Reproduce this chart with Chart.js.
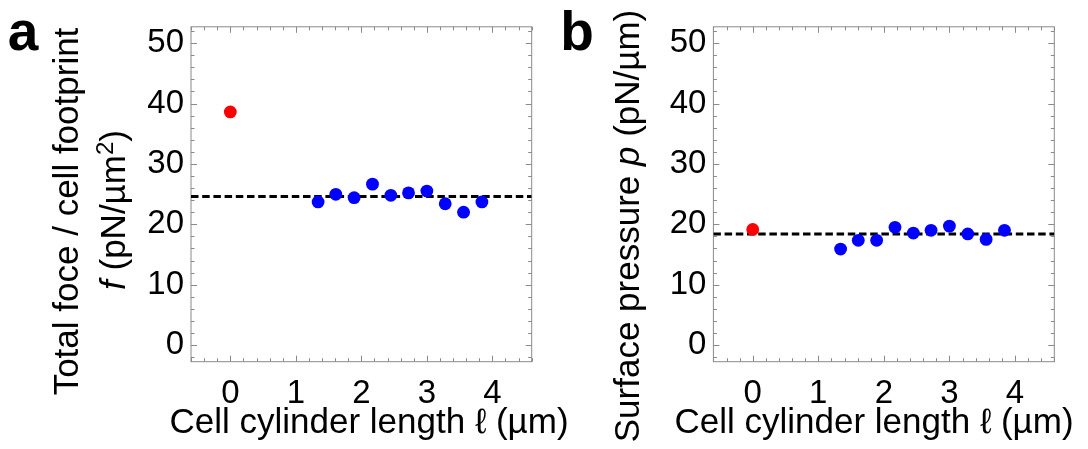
<!DOCTYPE html>
<html><head><meta charset="utf-8">
<script src="https://cdn.jsdelivr.net/npm/chart.js@4.4.1/dist/chart.umd.min.js"></script>
<style>
html,body{margin:0;padding:0;background:#fff;}
#wrap{position:relative;width:1088px;height:449px;overflow:hidden;}
.panel{position:absolute;top:0;height:449px;}
</style></head><body>
<div id="wrap">
<div class="panel" style="left:0;width:600px"><canvas id="ca" width="600" height="449"></canvas></div>
<div class="panel" style="left:544px;width:544px"><canvas id="cb" width="544" height="449"></canvas></div>
</div>
<script>
// ---- data ----
const cylinderLength = [1.34, 1.61, 1.89, 2.17, 2.45, 2.72, 3.00, 3.28, 3.56, 3.84];
const forcePerFootprint = [23.7, 24.96, 24.4, 26.65, 24.8, 25.2, 25.5, 23.4, 22.0, 23.7];
const forceAtZero = [{x: 0, y: 38.6}];
const forceMean = 24.6;
const surfacePressure = [15.9, 17.35, 17.35, 19.5, 18.55, 19.0, 19.7, 18.4, 17.5, 19.0];
const pressureAtZero = [{x: 0, y: 19.15}];
const pressureMean = 18.4;
const xTickValues = [0, 1, 2, 3, 4];
const yTickValues = [0, 10, 20, 30, 40, 50];
const xRange = [-0.6, 4.6];
const yRange = [-2.75, 52.7];
const xMinorStep = 0.2;
const yMinorStep = 2;

const FAM = '"Liberation Sans", Arial, Helvetica, sans-serif';

function drawRich(ctx, segs, x, y, rot) {
  ctx.save();
  ctx.translate(x, y);
  ctx.rotate(rot);
  ctx.textAlign = 'left';
  ctx.textBaseline = 'alphabetic';
  ctx.fillStyle = '#000';
  let total = 0;
  segs.forEach(s => { ctx.font = s.font; s.w = ctx.measureText(s.t).width; total += s.w; });
  let cx = -total / 2;
  segs.forEach(s => { ctx.font = s.font; ctx.fillText(s.t, cx, -(s.dy || 0)); cx += s.w; });
  ctx.restore();
}

function makePlugin(titles) {
  return {
    id: 'frameTitles',
    beforeDatasetsDraw(chart) {
      const ctx = chart.ctx, a = chart.chartArea;
      const xs = chart.scales.x, ys = chart.scales.y;
      ctx.save();
      ctx.strokeStyle = '#8a8a8a';
      ctx.lineWidth = 1;
      ctx.strokeRect(a.left, a.top, a.right - a.left, a.bottom - a.top);
      ctx.beginPath();
      const k0 = Math.ceil(xRange[0] / xMinorStep - 1e-9), k1 = Math.floor(xRange[1] / xMinorStep + 1e-9);
      for (let k = k0; k <= k1; k++) {
        const v = k * xMinorStep;
        const major = xTickValues.some(t => Math.abs(t - v) < 1e-6);
        const L = major ? 6 : 3.5;
        const px = Math.round(xs.getPixelForValue(v)) + 0.5;
        ctx.moveTo(px, a.bottom); ctx.lineTo(px, a.bottom - L);
        ctx.moveTo(px, a.top); ctx.lineTo(px, a.top + L);
      }
      const j0 = Math.ceil(yRange[0] / yMinorStep - 1e-9), j1 = Math.floor(yRange[1] / yMinorStep + 1e-9);
      for (let j = j0; j <= j1; j++) {
        const v = j * yMinorStep;
        const major = yTickValues.some(t => Math.abs(t - v) < 1e-6);
        const L = major ? 6 : 3.5;
        const py = Math.round(ys.getPixelForValue(v)) + 0.5;
        ctx.moveTo(a.left, py); ctx.lineTo(a.left + L, py);
        ctx.moveTo(a.right, py); ctx.lineTo(a.right - L, py);
      }
      ctx.stroke();
      ctx.restore();
    },
    afterDraw(chart) {
      const ctx = chart.ctx;
      titles.forEach(t => drawRich(ctx, t.segs, t.x, t.y, t.rot || 0));
    }
  };
}

function makeChart(id, canvasW, values, zeroPoint, mean, leftW, rightPad, titles) {
  const blue = cylinderLength.map((x, i) => ({x: x, y: values[i]}));
  return new Chart(document.getElementById(id), {
    type: 'scatter',
    data: {
      datasets: [
        {type: 'line', data: [{x: xRange[0], y: mean}, {x: xRange[1], y: mean}],
         borderColor: '#000', borderWidth: 3, borderDash: [7.5, 3.7], borderCapStyle: 'butt',
         pointRadius: 0, fill: false, order: 3},
        {data: blue, backgroundColor: '#0000ff', borderWidth: 0, pointRadius: 6.4, order: 1},
        {data: zeroPoint, backgroundColor: '#ff0000', borderWidth: 0, pointRadius: 6.4, order: 1}
      ]
    },
    options: {
      responsive: false,
      animation: false,
      events: [],
      layout: {padding: {top: 21.7, right: rightPad, left: 0, bottom: 0}},
      plugins: {legend: {display: false}, tooltip: {enabled: false}},
      scales: {
        x: {
          type: 'linear', min: xRange[0], max: xRange[1],
          afterBuildTicks: s => { s.ticks = xTickValues.map(v => ({value: v})); },
          afterFit: s => { s.height = 449 - 361.7; },
          grid: {display: false, drawTicks: false},
          border: {display: false},
          ticks: {font: {family: FAM, size: 33}, color: '#000', padding: 12, maxRotation: 0, autoSkip: false}
        },
        y: {
          type: 'linear', min: yRange[0], max: yRange[1],
          afterBuildTicks: s => { s.ticks = yTickValues.map(v => ({value: v})); },
          afterFit: s => { s.width = leftW; },
          grid: {display: false, drawTicks: false},
          border: {display: false},
          ticks: {font: {family: FAM, size: 33}, color: '#000', padding: 7, autoSkip: false}
        }
      }
    },
    plugins: [makePlugin(titles)]
  });
}

const R = '35px ' + FAM, I = 'italic 35px ' + FAM;
const xTitle = 'Cell cylinder length \u2113 (\u00b5m)';

makeChart('ca', 600, forcePerFootprint, forceAtZero, forceMean, 191, 600 - 531.7, [
  {segs: [{t: 'a', font: 'bold 55px ' + FAM}], x: 23, y: 50},
  {segs: [{t: 'Total foce / cell footprint', font: R}], x: 78, y: 211.5, rot: -Math.PI / 2},
  {segs: [{t: 'f', font: I}, {t: ' (pN/\u00b5m', font: R}, {t: '2', font: '24px ' + FAM, dy: 12}, {t: ')', font: R}],
   x: 125, y: 210, rot: -Math.PI / 2},
  {segs: [{t: xTitle, font: R}], x: 369, y: 433}
]);

makeChart('cb', 544, surfacePressure, pressureAtZero, pressureMean, 713.4 - 544, 544 - (1054.3 - 544), [
  {segs: [{t: 'b', font: 'bold 55px ' + FAM}], x: 33, y: 50},
  {segs: [{t: 'Surface pressure ', font: R}, {t: 'p', font: I}, {t: ' (pN/\u00b5m)', font: R}],
   x: 95, y: 226, rot: -Math.PI / 2},
  {segs: [{t: xTitle, font: R}], x: 330, y: 433}
]);
</script>
</body></html>
